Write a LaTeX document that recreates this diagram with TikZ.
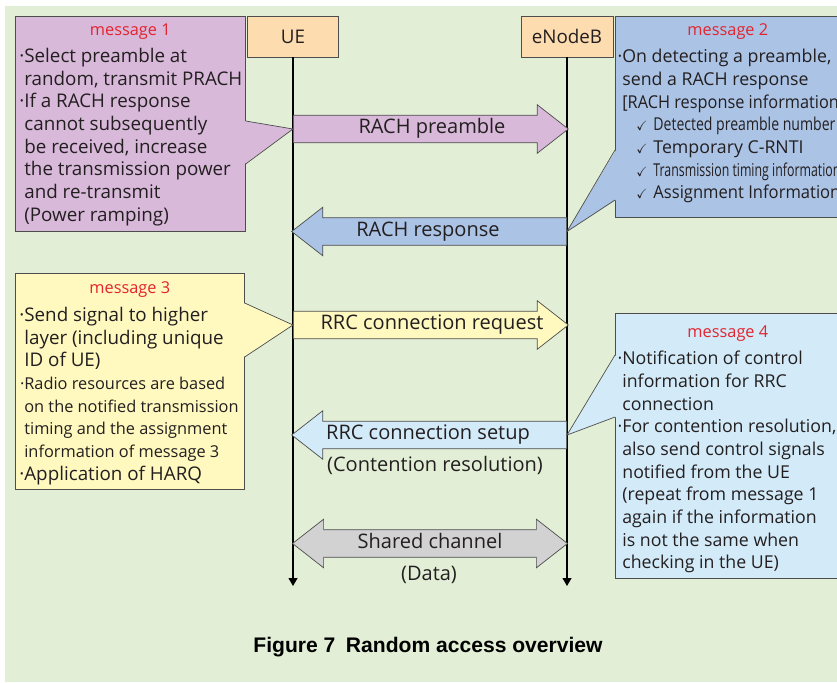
\documentclass[tikz,border=0pt]{standalone}
\usepackage{fontspec}
\usepackage{amssymb}
\usepackage{graphicx}
\setmainfont{Open Sans}
\newfontfamily\capfont{Liberation Sans}
\usetikzlibrary{shapes.arrows, arrows.meta, positioning, calc}
\definecolor{bggreen}{HTML}{E2EFD6}
\definecolor{entorange}{HTML}{FDDCB0}
\definecolor{msgpurple}{HTML}{D8B9DA}
\definecolor{msgblue}{HTML}{ABC3E5}
\definecolor{msgyellow}{HTML}{FFF9BF}
\definecolor{msgcyan}{HTML}{D3EAF8}
\definecolor{chgray}{HTML}{D2D2D2}
\definecolor{msgred}{HTML}{E3242F}
\definecolor{boxline}{HTML}{4D4D4D}
\definecolor{txtdark}{HTML}{231F20}
\newcommand\msgdot{\llap{·}}
\newcommand\msgsmall{\fontsize{9.3}{12.9}\selectfont}
\newcommand\chk{\hspace*{0.28cm}\scalebox{0.75}{$\checkmark$}\hspace{0.12cm}}

\begin{document}
\begin{tikzpicture}[
    x=0.02cm, y=-0.02cm,
    every node/.style={text=txtdark, font=\fontsize{10.7}{12.9}\selectfont},
    entity/.style={rectangle, draw=boxline, fill=entorange, minimum width=1.83cm, minimum height=0.82cm},
    callbox/.style={rectangle, draw=boxline, anchor=north west},
    msgtitle/.style={text=msgred, inner sep=0pt, anchor=north, font=\fontsize{9.3}{12}\selectfont},
    msgtext/.style={align=left, inner sep=0pt},
    righttext/.style={msgtext, font=\fontsize{10.1}{12.9}\selectfont},
    sigfont/.style={font=\fontsize{11.4}{13}\selectfont},
    sarrow/.style={single arrow, draw=boxline, sigfont, anchor=tail, minimum height=5.5cm, single arrow head extend=0.21cm, single arrow tip angle=76, inner xsep=0pt, inner ysep=2.4pt, text height=8pt, text depth=2.5pt},
    darrow/.style={double arrow, draw=boxline, sigfont, minimum height=5.5cm, double arrow head extend=0.21cm, double arrow tip angle=76, inner xsep=0pt, inner ysep=2.4pt, text height=8pt, text depth=2.5pt},
    lifeline/.style={-{Triangle[length=1.6mm, width=1.8mm]}, line width=0.6pt},
    pointer/.style={draw=boxline, line join=miter}
]
    \useasboundingbox (0,0) rectangle (837,682);
    \clip (0,0) rectangle (837,682);
    \fill[bggreen] (5,6) rectangle (837,682);

    % Entities and lifelines
    \node[entity] (ue) at (293,36.5) {UE};
    \node[entity, minimum width=1.84cm] (enb) at (567,36.5) {eNodeB};
    \draw[lifeline] (ue.south) -- (ue.south |- 0,586);
    \draw[lifeline] (enb.south) -- (enb.south |- 0,586);

    % Message boxes
    \node[callbox, fill=msgpurple, minimum width=4.6cm, minimum height=4.3cm] (m1) at (15,16) {};
    \node[callbox, fill=msgblue, minimum width=4.5cm, minimum height=4.02cm] (m2) at (615,16) {};
    \node[callbox, fill=msgyellow, minimum width=4.58cm, minimum height=4.32cm] (m3) at (15,273) {};
    \node[callbox, fill=msgcyan, minimum width=4.5cm, minimum height=5.3cm] (m4) at (615,313) {};

    % Signals
    \node[sarrow, fill=msgpurple] (rachpre) at (ue.south |- 0,129) {\hspace*{0.4cm}RACH preamble};
    \node[sarrow, fill=msgblue, shape border rotate=180] (rachresp) at (enb.south |- 0,231.5) {RACH response\hspace*{0.4cm}};
    \node[sarrow, fill=msgyellow] (rrcreq) at (ue.south |- 0,325) {\hspace*{0.4cm}RRC connection request};
    \node[sarrow, fill=msgcyan, shape border rotate=180] (rrcset) at (enb.south |- 0,435) {RRC connection setup\hspace*{0.4cm}};
    \node[sigfont] (contres) at (435,465) {(Contention resolution)};
    \node[darrow, fill=chgray] (shared) at ($(ue.south |- 0,543.5)!0.5!(enb.south |- 0,543.5)$) {Shared channel};
    \node[sigfont] (data) at (429,575) {(Data)};

    % Pointers
    \fill[msgpurple] ($(m1.east |- 0,121)+(-1,0)$) -- (rachpre.tail) -- ($(m1.east |- 0,164)+(-1,0)$) -- cycle;
    \draw[pointer] (m1.east |- 0,121) -- (rachpre.tail) -- (m1.east |- 0,164);
    \fill[msgblue] ($(m2.west |- 0,150)+(1,0)$) -- (rachresp.tail) -- ($(m2.west |- 0,200)+(1,0)$) -- cycle;
    \draw[pointer] (m2.west |- 0,150) -- (rachresp.tail) -- (m2.west |- 0,200);
    \fill[msgyellow] ($(m3.east |- 0,303)+(-1,0)$) -- (rrcreq.tail) -- ($(m3.east |- 0,357)+(-1,0)$) -- cycle;
    \draw[pointer] (m3.east |- 0,303) -- (rrcreq.tail) -- (m3.east |- 0,357);
    \fill[msgcyan] ($(m4.west |- 0,355)+(1,0)$) -- (rrcset.tail) -- ($(m4.west |- 0,417)+(1,0)$) -- cycle;
    \draw[pointer] (m4.west |- 0,355) -- (rrcset.tail) -- (m4.west |- 0,417);

    % Texts
    \node[msgtitle, below=0.14cm of m1.north] (m1title) {message 1};
    \node[msgtext, below right=0.64cm and 0.18cm of m1.north west] (m1body) {\msgdot Select preamble at\\
        random, transmit PRACH\\
        \msgdot If a RACH response\\
        cannot subsequently\\
        be received, increase\\
        the transmission power\\
        and re-transmit\\
        (Power ramping)};
    \node[msgtitle, below=0.14cm of m2.north] (m2title) {message 2};
    \node[righttext, below right=0.66cm and 0.14cm of m2.north west] (m2body) {\msgdot On detecting a preamble,\\
        send a RACH response\\
        \resizebox{4.44cm}{\height}{[RACH response information]}\\
        \chk\resizebox{3.64cm}{\height}{Detected preamble number}\\
        \chk Temporary C-RNTI\\
        \chk\resizebox{3.74cm}{\height}{Transmission timing information}\\
        \chk\resizebox{3.74cm}{\height}{Assignment Information}};
    \node[msgtitle, below=0.16cm of m3.north] (m3title) {message 3};
    \node[msgtext, below right=0.68cm and 0.18cm of m3.north west] (m3body) {\msgdot Send signal to higher\\
        layer (including unique\\
        ID of UE)\\
        {\msgsmall\msgdot Radio resources are based}\\
        {\msgsmall on the notified transmission}\\
        {\msgsmall timing and the assignment}\\
        {\msgsmall information of message 3}\\
        \msgdot Application of HARQ};
    \node[msgtitle, below=0.24cm of m4.north] (m4title) {message 4};
    \node[righttext, below right=0.76cm and 0.14cm of m4.north west] (m4body) {\msgdot Notification of control\\
        information for RRC\\
        connection\\
        \msgdot For contention resolution,\\
        also send control signals\\
        notified from the UE\\
        (repeat from message 1\\
        again if the information\\
        is not the same when\\
        checking in the UE)};

    % Caption
    \node[font=\capfont\bfseries\fontsize{12}{14}\selectfont, text=black] (caption) at (428,647) {Figure 7\enspace Random access overview};
\end{tikzpicture}
\end{document}
